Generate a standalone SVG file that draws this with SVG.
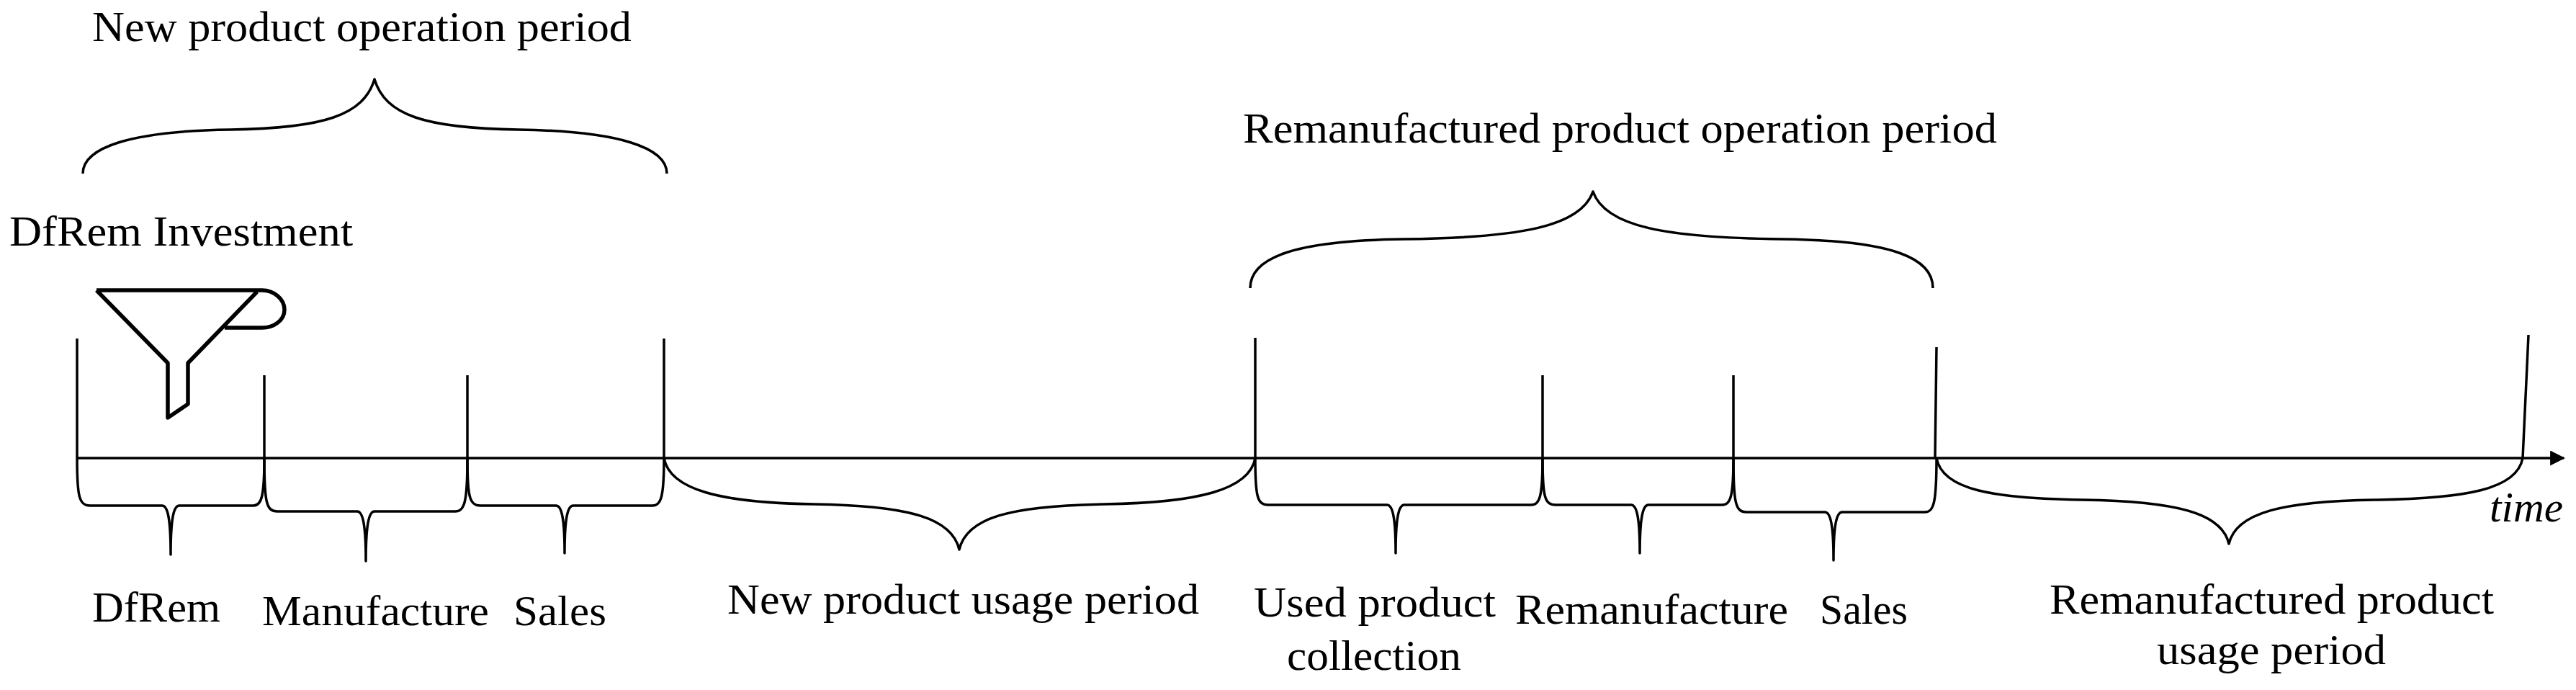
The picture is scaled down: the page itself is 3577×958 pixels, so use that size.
<svg xmlns="http://www.w3.org/2000/svg" width="3577" height="958" viewBox="0 0 3577 958">
<style>
.l{fill:none;stroke:#000;stroke-width:3.5;stroke-linejoin:round}
.f{fill:none;stroke:#000;stroke-width:5.5;stroke-linejoin:round}
.t{font-family:"Liberation Serif","Times New Roman",serif;font-size:60px;fill:#000}
</style>
<defs><marker id="ar" viewBox="0 0 10 10" refX="9" refY="5" markerWidth="6" markerHeight="6" orient="auto" markerUnits="strokeWidth"><path d="M0,0 L10,5 L0,10 z" fill="#000"/></marker></defs>
<rect width="3577" height="958" fill="#fff"/>
<g id="connectors">
<path class="l" d="M107,636 L3560,636" marker-end="url(#ar)"/>
<path class="l" d="M107,470 V636 M367,521 V636 M649,521 V636 M922,470 V636 M1743,469 V636 M2142,521 V636 M2407,521 V636 M2689,482 L2687,636 M3511,465 L3503,636"/>
<path class="l" d="M115,241 C115,205 180,182 320,180 C450,178 505,160 520,110 C535,160 590,178 720,180 C860,182 926,205 926,241"/>
<path class="l" d="M1736,400 C1736,360 1790,334 1950,332 C2110,330 2195,315 2212,266 C2229,315 2314,330 2474,332 C2634,334 2684,360 2684,400"/>
<path class="l" d="M922,636 C930,680 1000,698 1130,700 C1265,702 1322,720 1332,763 C1342,720 1399,702 1534,700 C1664,698 1735,680 1743,636"/>
<path class="l" d="M2689,636 C2697,680 2767,692 2892,694 C3022,696 3085,712 3095,755 C3105,712 3168,696 3298,694 C3423,692 3495,680 3503,636"/>
<path class="l" d="M107,636 C107,690 110,702 125,702 L225,702 C233,702 237,720 237,770 C237,720 241,702 249,702 L352,702 C363,702 367,690 367,636"/>
<path class="l" d="M367,636 C367,698 370,710 385,710 L496,710 C504,710 508,730 508,779 C508,730 512,710 520,710 L632,710 C645,710 649,698 649,636"/>
<path class="l" d="M649,636 C649,690 652,702 667,702 L772,702 C780,702 784,720 784,768 C784,720 788,702 796,702 L906,702 C918,702 922,690 922,636"/>
<path class="l" d="M1743,636 C1743,690 1746,701 1761,701 L1926,701 C1934,701 1938,720 1938,768 C1938,720 1942,701 1950,701 L2126,701 C2138,701 2142,690 2142,636"/>
<path class="l" d="M2142,636 C2142,690 2145,701 2160,701 L2265,701 C2273,701 2277,720 2277,768 C2277,720 2281,701 2289,701 L2391,701 C2403,701 2407,690 2407,636"/>
<path class="l" d="M2407,636 C2407,699 2410,711 2425,711 L2534,711 C2542,711 2546,730 2546,778 C2546,730 2550,711 2558,711 L2673,711 C2685,711 2689,699 2689,636"/>
</g>
<g id="funnel">
<path class="f" d="M134,403 L364,403 C380,403 395,415 395,430 C395,445 380,455 364,455 L312,455"/>
<path class="f" d="M134,403 L233,504 L233,580 L261,561 L261,504 L357,405"/>
</g>
<g id="labels">
<text class="t" x="128" y="57" textLength="749" lengthAdjust="spacingAndGlyphs">New product operation period</text>
<text class="t" x="13" y="341" textLength="477" lengthAdjust="spacingAndGlyphs">DfRem Investment</text>
<text class="t" x="1726" y="198" textLength="1047" lengthAdjust="spacingAndGlyphs">Remanufactured product operation period</text>
<text class="t" x="128" y="863" textLength="178" lengthAdjust="spacingAndGlyphs">DfRem</text>
<text class="t" x="364" y="868" textLength="315" lengthAdjust="spacingAndGlyphs">Manufacture</text>
<text class="t" x="713" y="868" textLength="129" lengthAdjust="spacingAndGlyphs">Sales</text>
<text class="t" x="1010" y="852" textLength="655" lengthAdjust="spacingAndGlyphs">New product usage period</text>
<text class="t" x="1741" y="856" textLength="336" lengthAdjust="spacingAndGlyphs">Used product</text>
<text class="t" x="1787" y="930" textLength="242" lengthAdjust="spacingAndGlyphs">collection</text>
<text class="t" x="2104" y="866" textLength="379" lengthAdjust="spacingAndGlyphs">Remanufacture</text>
<text class="t" x="2527" y="866" textLength="122" lengthAdjust="spacingAndGlyphs">Sales</text>
<text class="t" x="2846" y="852" textLength="617" lengthAdjust="spacingAndGlyphs">Remanufactured product</text>
<text class="t" x="2995" y="922" textLength="318" lengthAdjust="spacingAndGlyphs">usage period</text>
<text class="t" x="3457" y="724" font-style="italic" font-size="50" textLength="102" lengthAdjust="spacingAndGlyphs">time</text>
</g>
</svg>
